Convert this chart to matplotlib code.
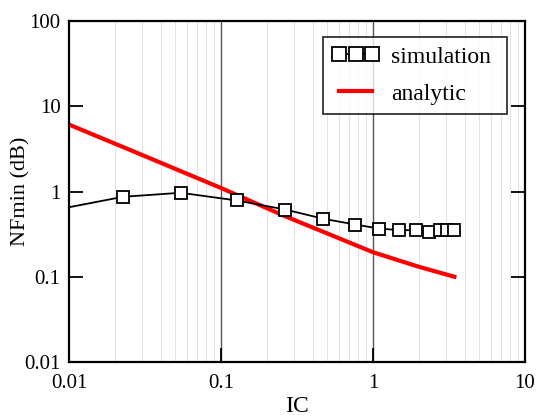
import matplotlib
matplotlib.use('Agg')
import matplotlib.pyplot as plt
from matplotlib.ticker import FixedLocator, NullFormatter

# simulation points (markers)
ic_sim = [0.0227, 0.0543, 0.127, 0.264, 0.471, 0.762, 1.094, 1.49, 1.92, 2.34, 2.76, 3.08, 3.43]
nf_sim = [0.867, 0.966, 0.785, 0.615, 0.479, 0.41, 0.368, 0.352, 0.352, 0.337, 0.352, 0.352, 0.352]
# simulation curve starts at the left edge without a marker
ic_sim_start = 0.01
nf_sim_start = 0.654

# analytic curve
ic_ana = [0.01, 0.03, 0.1, 0.264, 0.5, 1.0, 2.0, 3.43]
nf_ana = [6.1, 2.7, 1.1, 0.513, 0.322, 0.194, 0.131, 0.1]

x_ticks = [0.01, 0.1, 1, 10]
x_labels = ['0.01', '0.1', '1', '10']
y_ticks = [0.01, 0.1, 1, 10, 100]
y_labels = ['0.01', '0.1', '1', '10', '100']

plt.rcParams['font.family'] = ['Liberation Serif', 'DejaVu Serif']

fig = plt.figure(figsize=(5.37, 4.17), dpi=100)
ax = fig.add_axes([0.1285, 0.1319, 0.8492, 0.8177])

ax.set_xscale('log')
ax.set_yscale('log')
ax.set_xlim(0.01, 10)
ax.set_ylim(0.01, 100)

# grid: light minor, darker major (vertical only)
minor = [m * 10.0 ** e for e in range(-2, 1) for m in range(2, 10)]
for v in minor:
    ax.axvline(v, color='#e3e3e3', lw=0.8, zorder=0)
for v in [0.1, 1]:
    ax.axvline(v, color='#555555', lw=1.0, zorder=0)

ax.plot([ic_sim_start] + ic_sim, [nf_sim_start] + nf_sim, color='black', lw=1.3,
        zorder=3)
ax.plot(ic_sim, nf_sim, ls='none', marker='s', ms=8, mfc='white', mec='black',
        mew=1.3, zorder=4)
ax.plot(ic_ana, nf_ana, color='red', lw=3, zorder=2)

# legend handles
h_sim, = ax.plot([], [], color='black', lw=1.3, marker='s', ms=9.5, mfc='white',
                 mec='black', mew=1.3)
h_ana, = ax.plot([], [], color='red', lw=3)
leg = ax.legend([h_sim, h_ana], ['simulation', 'analytic'], loc='upper left',
                bbox_to_anchor=(0.557, 0.953, 0.4035, 0), mode='expand',
                borderaxespad=0, fontsize=17, frameon=True,
                fancybox=False, edgecolor='black', numpoints=3, handlelength=2.0,
                handletextpad=0.5, borderpad=0.38, labelspacing=0.66)
leg.get_frame().set_linewidth(1.3)

ax.xaxis.set_major_locator(FixedLocator(x_ticks))
ax.set_xticklabels(x_labels)
ax.xaxis.set_minor_formatter(NullFormatter())
ax.yaxis.set_major_locator(FixedLocator(y_ticks))
ax.set_yticklabels(y_labels)
ax.yaxis.set_minor_formatter(NullFormatter())
ax.tick_params(which='minor', length=0)
ax.tick_params(which='major', direction='in', length=10, width=1.3, labelsize=15,
               left=True, right=True, bottom=True, top=False)
ax.tick_params(axis='x', pad=9)
ax.tick_params(axis='y', pad=6)

for s in ax.spines.values():
    s.set_linewidth(1.6)

ax.set_xlabel('IC', fontsize=17, labelpad=2)
ax.set_ylabel('NFmin (dB)', fontsize=16)
ax.yaxis.set_label_coords(-0.085, 0.5)

fig.savefig('out.png', dpi=100)
